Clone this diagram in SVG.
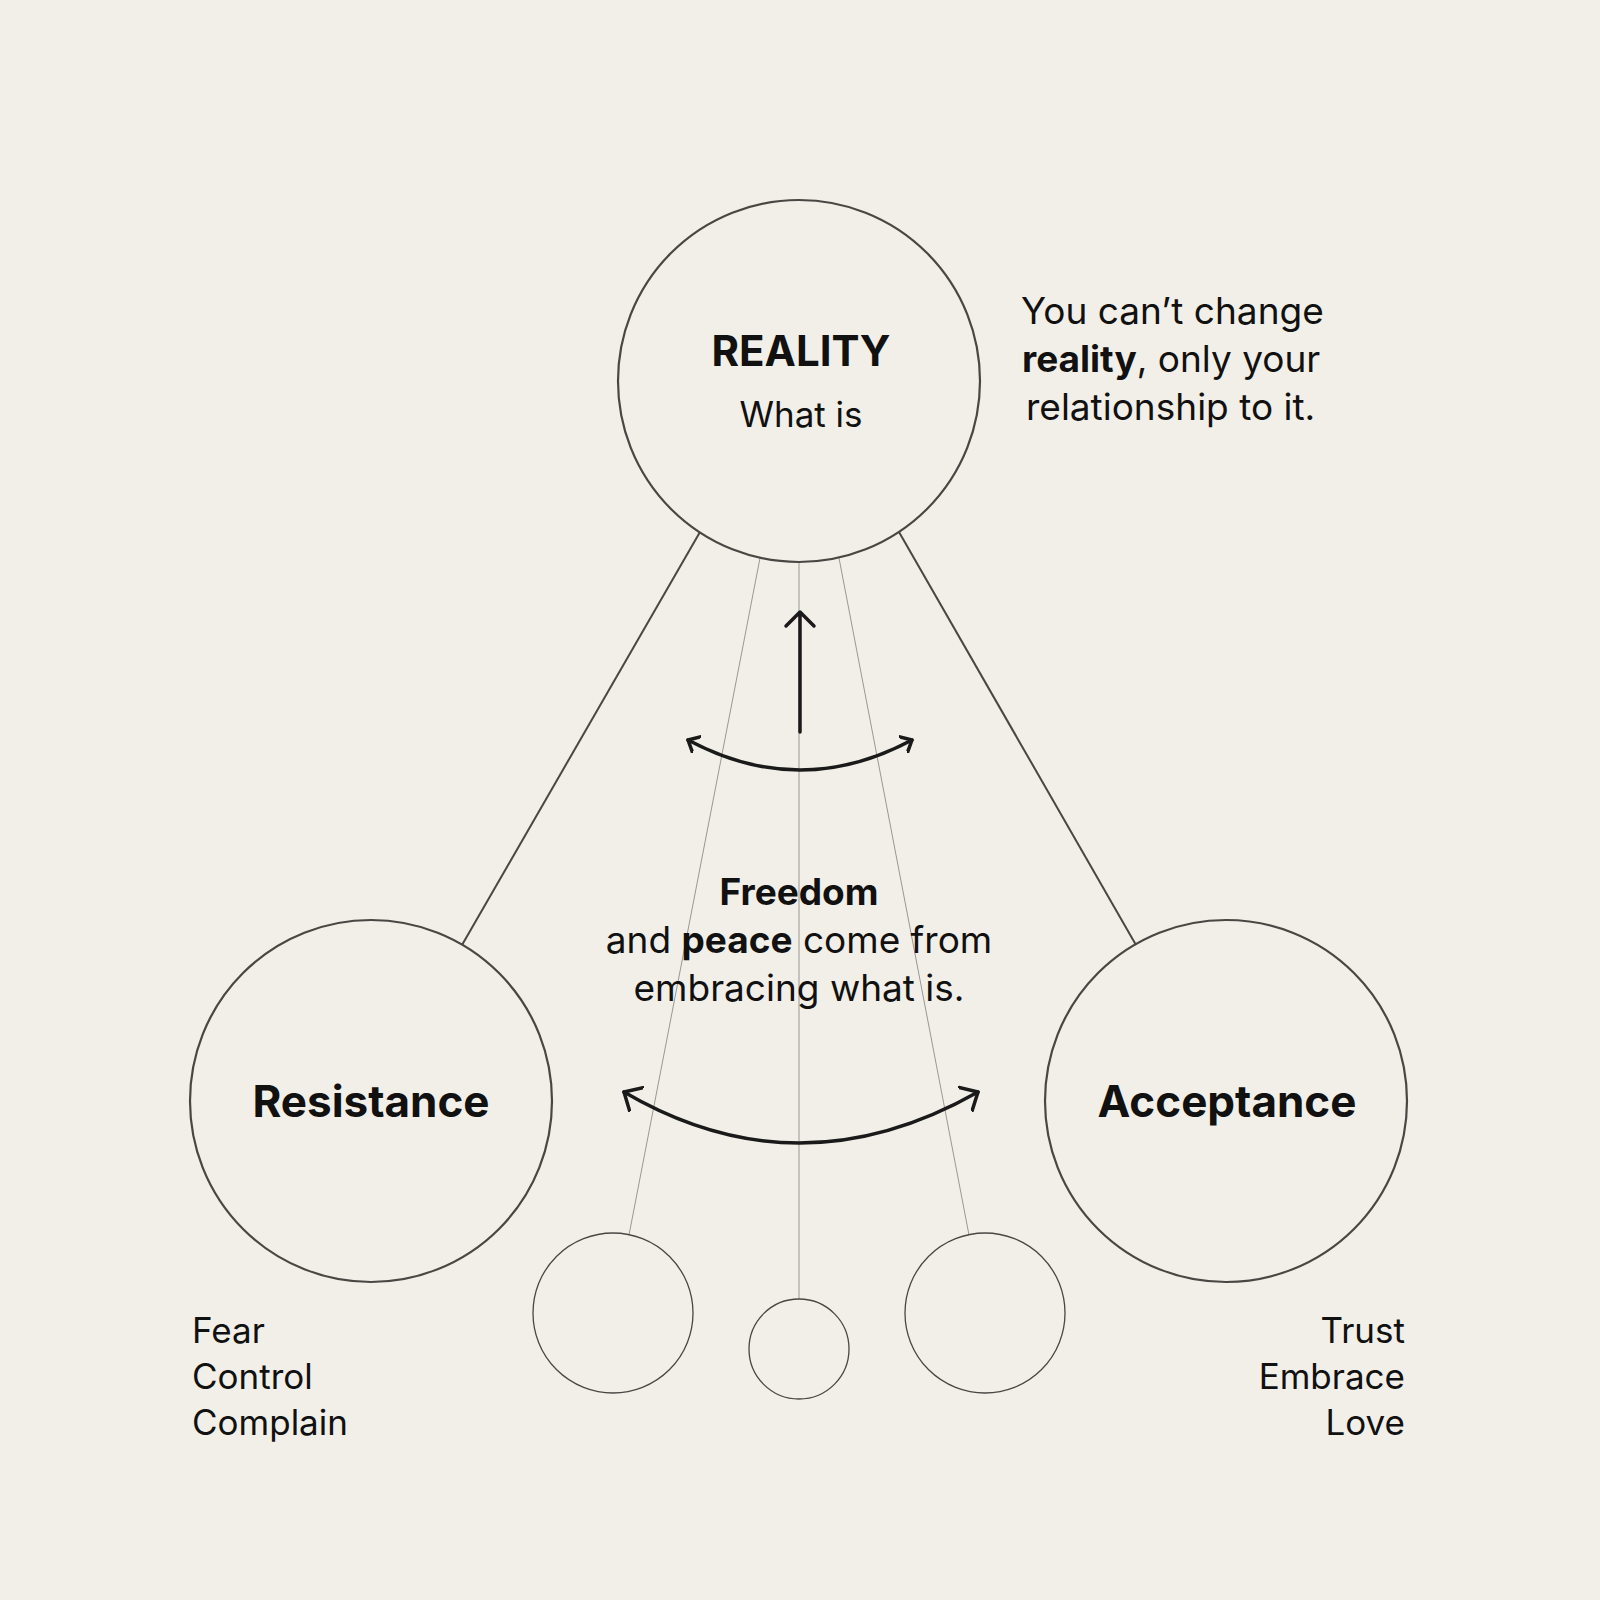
<svg xmlns="http://www.w3.org/2000/svg" width="1600" height="1600" viewBox="0 0 1600 1600">
<style>
text{font-family:Inter,"Noto Sans","Liberation Sans",sans-serif;fill:#111}
.big{fill:none;stroke:#4a4644;stroke-width:2.2}
.sm{fill:none;stroke:#4a4644;stroke-width:1.3}
.thin{stroke:#9a9794;stroke-width:1}
.link{stroke:#4a4644;stroke-width:2}
.arr{fill:none;stroke:#1a1a1a;stroke-width:3.5;stroke-linecap:round;stroke-linejoin:round}
</style>
<defs>
<marker id="h" viewBox="0 0 20 20" refX="10" refY="10" markerWidth="20" markerHeight="20" markerUnits="userSpaceOnUse" orient="auto-start-reverse">
<path d="M0,1 L10,10 L0,19" fill="none" stroke="#1a1a1a" stroke-width="3.5" stroke-linecap="round" stroke-linejoin="round"/>
</marker>
<marker id="hb" viewBox="0 0 30 30" refX="15" refY="15" markerWidth="30" markerHeight="30" markerUnits="userSpaceOnUse" orient="auto-start-reverse">
<path d="M0,1 L15,15 L0,29" fill="none" stroke="#1a1a1a" stroke-width="3.5" stroke-linecap="round" stroke-linejoin="round"/>
</marker>
</defs>
<rect width="1600" height="1600" fill="#f1efe7"/>
<g id="connectors">
<line class="link" x1="700" y1="532" x2="462" y2="945"/>
<line class="link" x1="899" y1="532" x2="1136" y2="945"/>
<line class="thin" x1="760" y1="558" x2="629" y2="1235"/>
<line class="thin" x1="799" y1="561" x2="799" y2="1299"/>
<line class="thin" x1="839" y1="558" x2="969" y2="1235"/>
<path class="arr" d="M800,732 L800,612 M786,626 L800,612 L814,626"/>
<path class="arr" d="M688,740 Q800,800 912,740" marker-start="url(#h)" marker-end="url(#h)"/>
<path class="arr" d="M624,1092 Q798,1194 978,1092" marker-start="url(#hb)" marker-end="url(#hb)"/>
</g>
<g id="reality">
<circle class="big" cx="799" cy="381" r="181"/>
<text x="801" y="366" font-size="42" font-weight="700" text-anchor="middle">REALITY</text>
<text x="801" y="427" font-size="35" text-anchor="middle">What is</text>
</g>
<g id="note">
<text font-size="37" x="1021" y="324">You can’t change</text>
<text font-size="37" x="1022" y="372"><tspan font-weight="700">reality</tspan>, only your</text>
<text font-size="37" x="1026" y="420">relationship to it.</text>
</g>
<g id="freedom">
<text x="799" y="905" font-size="37" font-weight="700" text-anchor="middle">Freedom</text>
<text x="799" y="953" font-size="37" text-anchor="middle">and <tspan font-weight="700">peace</tspan> come from</text>
<text x="799" y="1001" font-size="37" text-anchor="middle">embracing what is.</text>
</g>
<g id="resistance">
<circle class="big" cx="371" cy="1101" r="181"/>
<text x="371" y="1117" font-size="44" font-weight="700" text-anchor="middle">Resistance</text>
<text x="192" y="1343" font-size="35">Fear</text>
<text x="192" y="1389" font-size="35">Control</text>
<text x="192" y="1435" font-size="35">Complain</text>
</g>
<g id="acceptance">
<circle class="big" cx="1226" cy="1101" r="181"/>
<text x="1227" y="1117" font-size="44" font-weight="700" text-anchor="middle">Acceptance</text>
<text x="1405" y="1343" font-size="35" text-anchor="end">Trust</text>
<text x="1405" y="1389" font-size="35" text-anchor="end">Embrace</text>
<text x="1405" y="1435" font-size="35" text-anchor="end">Love</text>
</g>
<g id="small-left"><circle class="sm" cx="613" cy="1313" r="80"/></g>
<g id="small-mid"><circle class="sm" cx="799" cy="1349" r="50" stroke="#8a8784"/></g>
<g id="small-right"><circle class="sm" cx="985" cy="1313" r="80"/></g>
</svg>
